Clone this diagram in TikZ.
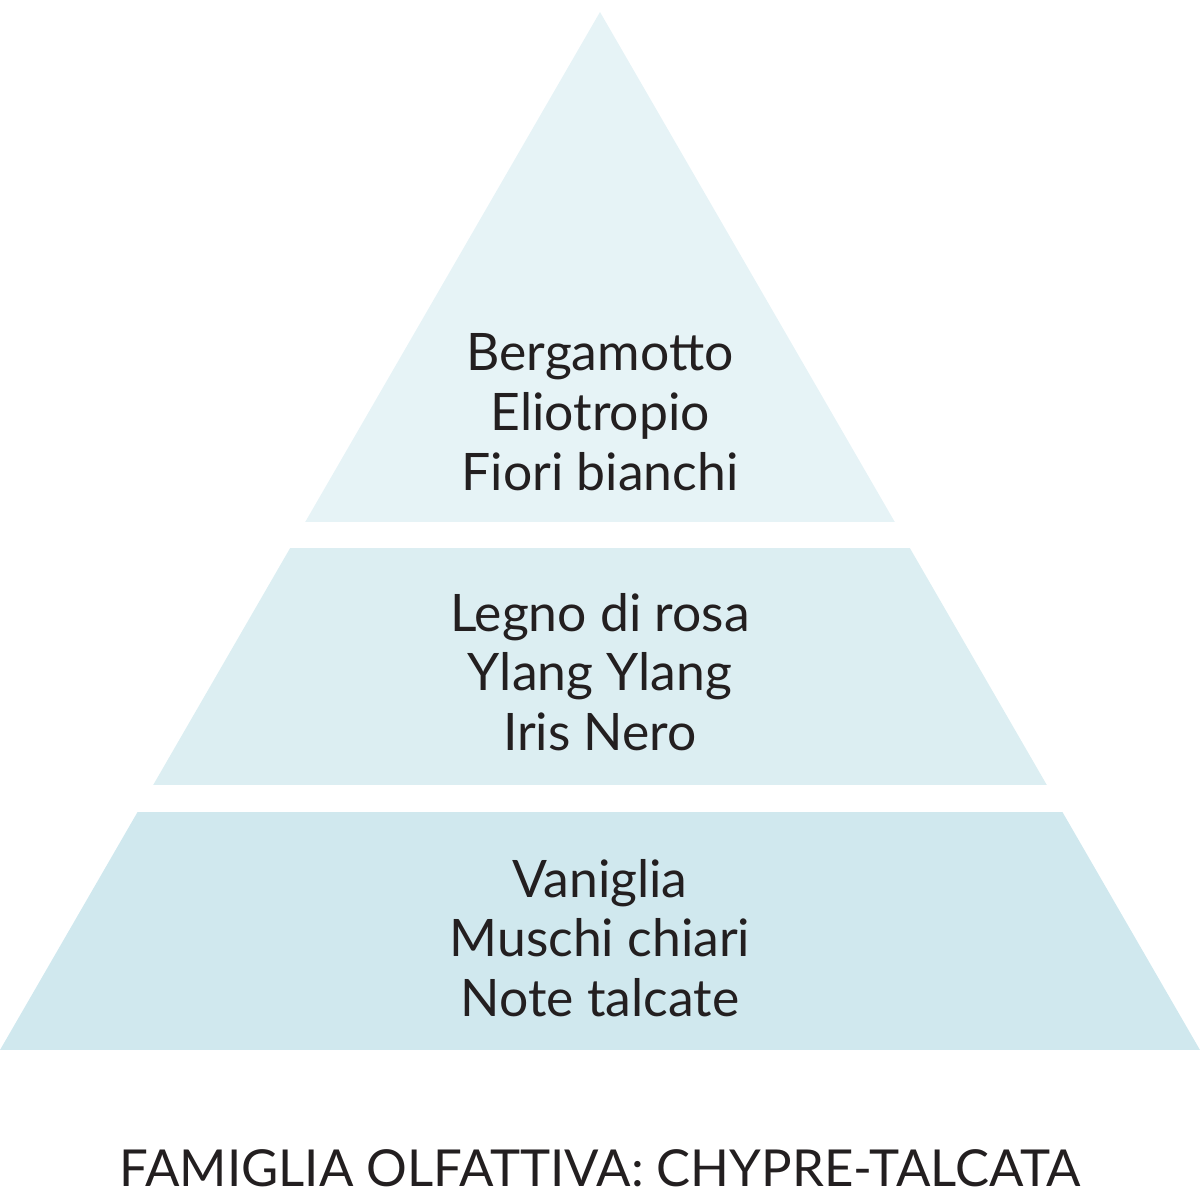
\documentclass[tikz,border=0pt]{standalone}
\usepackage{fontspec}
\setmainfont{Lato}
\usepackage{xcolor}
\usepackage{tikz}
\definecolor{tiertop}{HTML}{E6F3F6}
\definecolor{tiermid}{HTML}{DCEEF2}
\definecolor{tierbot}{HTML}{D0E8EE}
\definecolor{inkdark}{HTML}{231F20}

\begin{document}
\begin{tikzpicture}[notes/.style={align=center,text=inkdark,font=\fontsize{14.7}{17}\selectfont,inner sep=0pt},
famiglia/.style={text=inkdark,font=\fontsize{14.5}{17}\selectfont,inner sep=0pt}]
\useasboundingbox(0,0)rectangle(12,12);
\begin{scope}
\clip(0,1.5)--(6,11.88)--(12,1.5)--cycle;
\fill[tiertop](0,6.78)rectangle(12,12);
\fill[tiermid](0,4.15)rectangle(12,6.52);
\fill[tierbot](0,1.5)rectangle(12,3.88);
\end{scope}
\node[notes](testa)at(6,7.88){Bergamotto\\Eliotropio\\Fiori bianchi};
\node[notes](cuore)at(6,5.28){Legno di rosa\\Ylang Ylang\\Iris Nero};
\node[notes](fondo)at(6,2.62){Vaniglia\\Muschi chiari\\Note talcate};
\node[famiglia](famiglia)at(6,0.32){FAMIGLIA OLFATTIVA: CHYPRE-TALCATA};
\end{tikzpicture}
\end{document}
